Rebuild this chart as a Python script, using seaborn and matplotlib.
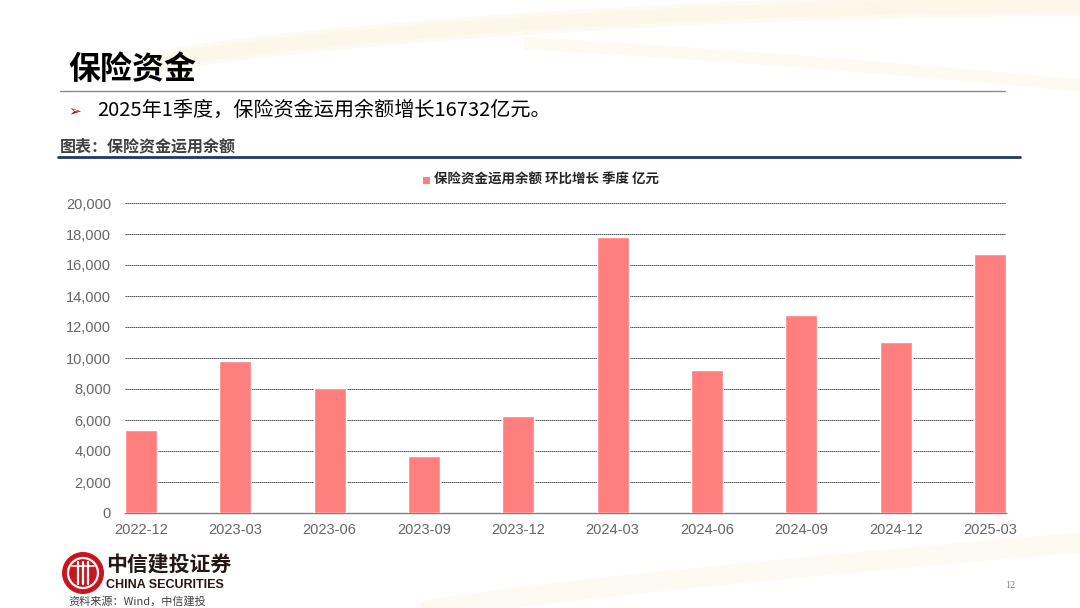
import numpy as np
import pandas as pd
import matplotlib
matplotlib.use("Agg")
import matplotlib.pyplot as plt
import matplotlib.ticker as mticker
from matplotlib.patches import Circle, Rectangle
import seaborn as sns

# --- datos ---
quarters = ["2022-12", "2023-03", "2023-06", "2023-09", "2023-12",
            "2024-03", "2024-06", "2024-09", "2024-12", "2025-03"]
growth = [5350, 9800, 8050, 3700, 6280, 17800, 9230, 12770, 11010, 16732]
y_ticks = [0, 2000, 4000, 6000, 8000, 10000, 12000, 14000, 16000, 18000, 20000]

series_name = "保险资金运用余额 环比增长 季度 亿元"
page_title = "保险资金"
bullet_text = "2025年1季度，保险资金运用余额增长16732亿元。"
chart_caption = "图表：保险资金运用余额"
source_text = "资料来源：Wind，中信建投"

sns.set_theme(style="white")
CJK = ["Noto Sans CJK SC", "DejaVu Sans"]
plt.rcParams["font.family"] = CJK

bar_color = "#FF7F7F"
gray_txt = "#666666"

W, H = 1080, 608
fig = plt.figure(figsize=(W / 100, H / 100), dpi=100)
fig.patch.set_facecolor("white")

# fondo decorativo (trazos crema), en coordenadas de píxel
bg = fig.add_axes([0, 0, 1, 1], zorder=-10)
bg.set_xlim(0, W)
bg.set_ylim(H, 0)
bg.axis("off")
xs = np.linspace(150, W, 200)
t = (xs - 150) / (W - 150)
top1 = 62 - 60 * np.sin(t * np.pi / 2) ** 0.7
for off, a in ((0, 0.30), (4, 0.25)):
    bg.fill_between(xs, top1 - 8 + off, top1 + 10 + off, color="#FAEFD2", alpha=a, lw=0)
sel = t > 0.4
top2 = 30 + 55 * t ** 1.6
bg.fill_between(xs[sel], top2[sel] - 6, top2[sel] + 6, color="#FAEFD2", alpha=0.3, lw=0)
xb = np.linspace(420, W, 200)
tb = (xb - 420) / (W - 420)
bot = 608 - 70 * tb ** 0.8
bg.fill_between(xb, bot - 6, bot + 14, color="#FAEFD2", alpha=0.3, lw=0)

def fy(py):
    return 1 - py / H

# cabecera
fig.text(68 / W, fy(70), page_title, fontsize=23, fontweight="bold", color="black", va="center", ha="left")
fig.add_artist(plt.Line2D([60 / W, 1005 / W], [fy(91), fy(91)], color="#8C8C8C", lw=1.0))
fig.text(68 / W, fy(111), "➢", fontsize=11, color="#C00000", va="center", ha="left",
         family=["DejaVu Sans"])
fig.text(97 / W, fy(110), bullet_text, fontsize=14.5, color="black", va="center", ha="left")
fig.text(60 / W, fy(146), chart_caption, fontsize=11.5, fontweight="bold", color="#404040",
         va="center", ha="left")
fig.add_artist(plt.Line2D([58 / W, 1020 / W], [fy(157), fy(157)], color="#1F3864", lw=2.0))

# leyenda
fig.add_artist(Rectangle((423 / W, fy(184)), 7 / W, 7 / H, transform=fig.transFigure,
                         color=bar_color, lw=0))
fig.text(434 / W, fy(180), series_name, fontsize=9.7, fontweight="bold", color="#262626",
         va="center", ha="left")

# gráfico
ax = fig.add_axes([125 / W, fy(513), 881 / W, 310 / H])
ax.set_facecolor("none")
df = pd.DataFrame({"quarter": quarters, "growth": growth})
bw = 0.34
sns.barplot(data=df, x="quarter", y="growth", color=bar_color, width=bw,
            saturation=1, ax=ax, zorder=3)
ax.set_xlim(-bw / 2, len(quarters) - 1 + bw / 2)
ax.set_ylim(y_ticks[0], y_ticks[-1])
ax.set_yticks(y_ticks)
ax.yaxis.set_major_formatter(mticker.StrMethodFormatter("{x:,.0f}"))
ax.yaxis.grid(True, color="#1A1A1A", linestyle=(0, (1.6, 0.8)), linewidth=0.6, zorder=0)
ax.set_axisbelow(True)
ax.set_xlabel("")
ax.set_ylabel("")

for s in ["top", "right", "left"]:
    ax.spines[s].set_visible(False)
ax.spines["bottom"].set_color("#7F7F7F")
ax.spines["bottom"].set_linewidth(1.0)

ax.tick_params(axis="y", length=0, pad=10, labelsize=10.5, labelcolor=gray_txt)
ax.tick_params(axis="x", which="major", length=0, pad=7, labelsize=10.5, labelcolor=gray_txt)
ax.set_xticks(np.arange(len(quarters)) - bw / 2, minor=True)
ax.tick_params(axis="x", which="minor", length=4, width=1, color="#7F7F7F", direction="out")
for lab in ax.get_xticklabels() + ax.get_yticklabels():
    lab.set_family(["Liberation Sans", "DejaVu Sans"])

# logo (en píxeles sobre el fondo) y fuente
bg.add_patch(Circle((83, 573), 21, color="#C8161D", lw=0))
bg.add_patch(Circle((83, 573), 15, facecolor="none", edgecolor="white", lw=1.6))
for dx in (-5, 0, 5):
    bg.plot([83 + dx, 83 + dx], [562, 584], color="white", lw=1.6)
bg.plot([72, 94], [566, 566], color="white", lw=1.2)
fig.text(106 / W, fy(564), "中信建投证券", fontsize=15, fontweight="bold", color="#231815",
         va="center", ha="left")
fig.text(106 / W, fy(585), "CHINA SECURITIES", fontsize=9, fontweight="bold", color="#231815",
         va="center", ha="left", family=["Liberation Sans", "DejaVu Sans"])
fig.text(68 / W, fy(601), source_text, fontsize=8, style="italic", color="#404040",
         va="center", ha="left")
fig.text(1010 / W, fy(586), "12", fontsize=7.5, color="#7F7F7F", va="center", ha="center",
         family=["Liberation Serif", "DejaVu Serif"])

fig.savefig("out.png", dpi=100, facecolor=fig.get_facecolor())
